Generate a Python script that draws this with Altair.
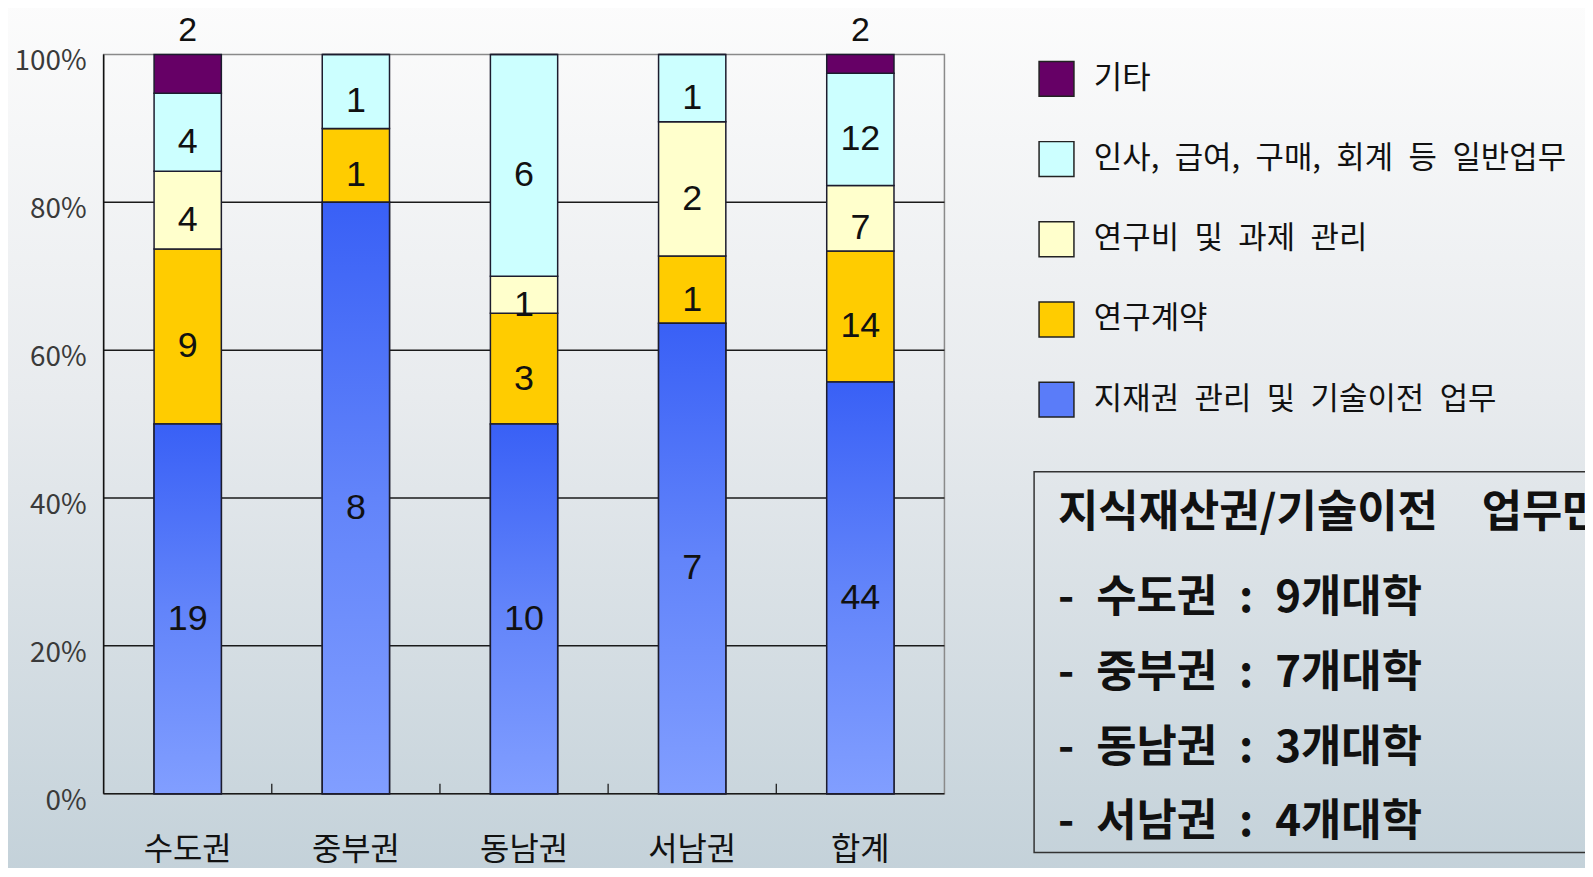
import altair as alt
import pandas as pd

# ---------------- data ----------------
regions = ["수도권", "중부권", "동남권", "서남권", "합계"]
series_names = [
    "지재권 관리 및 기술이전 업무",
    "연구계약",
    "연구비 및 과제 관리",
    "인사, 급여, 구매, 회계 등 일반업무",
    "기타",
]
ip_values = [19, 8, 10, 7, 44]
contract_values = [9, 1, 3, 1, 14]
budget_values = [4, 0, 1, 2, 7]
general_values = [4, 1, 6, 1, 12]
etc_values = [2, 0, 0, 0, 2]
series_colors = ["#5A7CF9", "#FFCC00", "#FFFFCC", "#CCFFFF", "#660066"]

y_ticks = [0, 0.2, 0.4, 0.6, 0.8, 1.0]
grid_ticks = [0, 0.2, 0.4, 0.6, 0.8]
boundary_ticks = [1, 2, 3, 4]

box_title = "지식재산권/기술이전\u3000업무만"
box_regions = ["수도권", "중부권", "동남권", "서남권"]
box_counts = [9, 7, 3, 4]

# ---------------- tables ----------------
all_values = [ip_values, contract_values, budget_values, general_values, etc_values]
rows = []
for si, (name, vals) in enumerate(zip(series_names, all_values)):
    for reg, v in zip(regions, vals):
        rows.append({"region": reg, "series": name, "order": si, "value": v})
df = pd.DataFrame(rows)
grid_df = pd.DataFrame({"t": grid_ticks})
ytick_df = pd.DataFrame({"t": y_ticks})
bound_df = pd.DataFrame({"b": boundary_ticks})
region_df = pd.DataFrame({"region": regions})
one_df = pd.DataFrame({"a": [0]})
EN = "\u2002"
box_lines = [f"-{EN}{r}{EN}:{EN}{c}개대학" for r, c in zip(box_regions, box_counts)]

FONT = "Noto Sans CJK KR"
NUM_FONT = "Liberation Sans"
W, H = 844, 742

legend_domain = series_names[::-1]
legend_range = series_colors[::-1]


def xs():
    return alt.Scale(domain=regions, paddingInner=0.6, paddingOuter=0.3)


y_scale = alt.Scale(domain=[0, 1], nice=False)

base = alt.Chart(df).transform_stack(
    stack="value",
    groupby=["region"],
    as_=["y0", "y1"],
    offset="normalize",
    sort=[alt.SortField("order", order="ascending")],
)

# page background gradient
bg = alt.Chart(one_df).mark_rect(
    fill=alt.LinearGradient(
        gradient="linear",
        stops=[
            alt.GradientStop(offset=0, color="#FCFCFC"),
            alt.GradientStop(offset=0.45, color="#E8EBEE"),
            alt.GradientStop(offset=1, color="#C3D1D9"),
        ],
        x1=0, x2=0, y1=0, y2=1,
    )
).encode(x=alt.value(-104), x2=alt.value(1600), y=alt.value(-53), y2=alt.value(830))

# plot outline (top / right)
outline = alt.Chart(one_df).mark_rect(
    fill="transparent", stroke="#8A8A8A", strokeWidth=1.5
).encode(x=alt.value(0), x2=alt.value(W), y=alt.value(0), y2=alt.value(H))

grid = alt.Chart(grid_df).mark_rule(color="#1A1A1A", strokeWidth=1.5).encode(
    y=alt.Y("t:Q", scale=y_scale, axis=None),
    x=alt.value(0),
    x2=alt.value(W),
)

y_domain = alt.Chart(one_df).mark_rule(color="#111111", strokeWidth=1.5).encode(
    x=alt.value(0), y=alt.value(0), y2=alt.value(H)
)

y_labels = alt.Chart(ytick_df).mark_text(
    font=FONT, fontSize=28, color="#3A3A3A", align="right", baseline="middle", dy=8
).encode(
    y=alt.Y("t:Q", scale=y_scale, axis=None),
    x=alt.value(-17),
    text=alt.Text("t:Q", format=".0%"),
)

x_ticks = alt.Chart(bound_df).mark_rule(color="#111111", strokeWidth=1.2).encode(
    x=alt.X("b:Q", scale=alt.Scale(domain=[0, 5], nice=False, zero=False), axis=None),
    y=alt.value(H - 10),
    y2=alt.value(H),
)

x_labels = alt.Chart(region_df).mark_text(
    font=FONT, fontSize=32, color="#111111", align="center", baseline="top"
).encode(
    x=alt.X("region:N", sort=regions, scale=xs(), axis=None),
    y=alt.value(H + 42),
    text="region:N",
)

bars = base.mark_bar(stroke="#1C1C2E", strokeWidth=1.5, opacity=1).encode(
    x=alt.X("region:N", sort=regions, scale=xs(), axis=None),
    y=alt.Y("y0:Q", scale=y_scale, axis=None),
    y2="y1:Q",
    color=alt.Color(
        "series:N",
        scale=alt.Scale(domain=legend_domain, range=legend_range),
        legend=alt.Legend(
            title=None,
            orient="none",
            legendX=938,
            legendY=6,
            symbolType="square",
            symbolSize=1225,
            symbolStrokeColor="#222222",
            symbolStrokeWidth=1.5,
            symbolOpacity=1,
            labelFont=FONT,
            labelFontSize=31,
            labelColor="#111111",
            labelOffset=19,
            labelLimit=900,
            labelExpr="join(split(datum.label, ' '), '\u2002')",
            rowPadding=39.5,
            padding=0,
            zindex=1,
        ),
    ),
    order=alt.Order("order:Q", sort="ascending"),
)

blue = base.transform_filter(alt.datum.order == 0).mark_bar(
    fill=alt.LinearGradient(
        gradient="linear",
        stops=[
            alt.GradientStop(offset=0, color="#3960F6"),
            alt.GradientStop(offset=0.5, color="#6284FA"),
            alt.GradientStop(offset=1, color="#819EFF"),
        ],
        x1=0, x2=0, y1=0, y2=1,
    ),
    stroke="#1C1C2E",
    strokeWidth=1.5,
).encode(
    x=alt.X("region:N", sort=regions, scale=xs(), axis=None),
    y=alt.Y("y0:Q", scale=y_scale, axis=None),
    y2="y1:Q",
)

inner_text = (
    base.transform_filter((alt.datum.value > 0) & (alt.datum.order < 4))
    .transform_calculate(mid="(datum.y0 + datum.y1) / 2")
    .mark_text(font=NUM_FONT, fontSize=36, color="#111111", baseline="middle", dy=10)
    .encode(
        x=alt.X("region:N", sort=regions, scale=xs(), axis=None),
        y=alt.Y("mid:Q", scale=y_scale, axis=None),
        text="value:Q",
    )
)

top_text = (
    base.transform_filter((alt.datum.value > 0) & (alt.datum.order == 4))
    .mark_text(font=NUM_FONT, fontSize=34, color="#111111", baseline="middle", dy=-24)
    .encode(
        x=alt.X("region:N", sort=regions, scale=xs(), axis=None),
        y=alt.Y("y1:Q", scale=y_scale, axis=None),
        text="value:Q",
    )
)

box = alt.Chart(one_df).mark_rect(
    fill="transparent", stroke="#333333", strokeWidth=1.5
).encode(x=alt.value(934), x2=alt.value(1700), y=alt.value(419), y2=alt.value(801))

box_title_text = alt.Chart(one_df).mark_text(
    text=box_title, font=FONT, fontSize=44, fontWeight="bold", color="#111111",
    align="left", baseline="middle",
).encode(x=alt.value(958), y=alt.value(461))

box_body_text = alt.Chart(one_df).mark_text(
    text=box_lines, font=FONT, fontSize=44, fontWeight="bold", color="#111111",
    align="left", baseline="middle", lineHeight=75,
).encode(x=alt.value(958), y=alt.value(547))

chart = alt.layer(
    bg, outline, grid, bars, blue, inner_text, top_text,
    y_domain, y_labels, x_ticks, x_labels,
    box, box_title_text, box_body_text,
).resolve_scale(x="independent").properties(
    width=W,
    height=H,
    padding={"left": 96, "top": 45, "right": 643, "bottom": 73},
    autosize=alt.AutoSizeParams(type="none"),
).configure_view(stroke=None).configure(background="#F4F6F7")

chart.save("out.html", embed_options={"renderer": "svg", "actions": False})
